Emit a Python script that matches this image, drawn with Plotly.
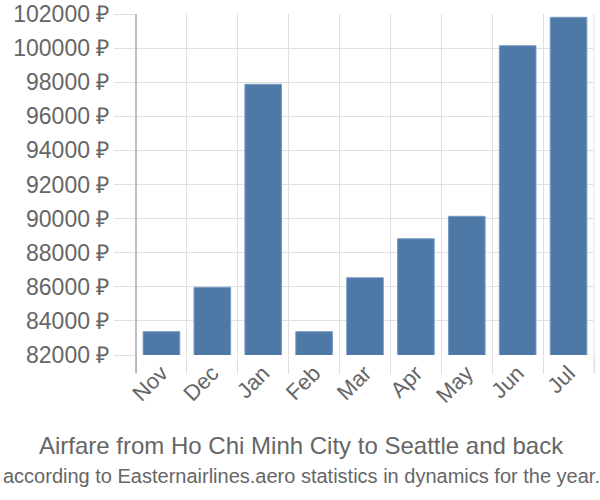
import plotly.graph_objects as go

months = ["Nov", "Dec", "Jan", "Feb", "Mar", "Apr", "May", "Jun", "Jul"]
prices = [83370, 85970, 97880, 83370, 86530, 88820, 90135, 100140, 101806]
y_ticks = list(range(82000, 102001, 2000))
y_tick_labels = [f"{v} ₽" for v in y_ticks]
title_line1 = "Airfare from Ho Chi Minh City to Seattle and back"
title_line2 = "according to Easternairlines.aero statistics in dynamics for the year."

W, H = 600, 500
L, R, T, B = 136, 6, 14, 145
plot_h = H - T - B

fig = go.Figure()
fig.add_trace(go.Bar(
    x=months, y=prices,
    marker=dict(color="#4e79a7", line=dict(color="#7a9cc4", width=1)),
    hoverinfo="x+y",
))

fig.update_layout(
    width=W, height=H,
    margin=dict(l=L, r=R, t=T, b=B, pad=0, autoexpand=False),
    paper_bgcolor="white", plot_bgcolor="white",
    bargap=0.28,
    showlegend=False,
    font=dict(family="Liberation Sans, Arial, sans-serif", color="#666666"),
    xaxis=dict(
        type="category",
        automargin=False,
        tickson="boundaries",
        ticks="outside", ticklen=18, tickcolor="#e0e0e0", tickwidth=1,
        showgrid=True, gridcolor="#e0e0e0", gridwidth=1,
        tickangle=-45,
        tickfont=dict(size=22, color="#666666"),
        showline=False, zeroline=False,
    ),
    yaxis=dict(
        automargin=False,
        range=[82000, 102000],
        tickvals=y_ticks, ticktext=y_tick_labels,
        ticks="outside", ticklen=21, tickcolor="#e0e0e0", tickwidth=1,
        showgrid=True, gridcolor="#e0e0e0", gridwidth=1,
        tickfont=dict(size=23, color="#666666"),
        showline=False, zeroline=False,
    ),
    shapes=[
        dict(type="line", xref="paper", yref="paper",
             x0=0, x1=0, y0=-18 / plot_h, y1=1,
             line=dict(color="#a8a8a8", width=1.5)),
        dict(type="line", xref="paper", yref="paper",
             x0=1, x1=1, y0=-18 / plot_h, y1=1,
             line=dict(color="#e0e0e0", width=1)),
    ],
    annotations=[
        dict(text=title_line1, xref="paper", yref="paper",
             x=(301 - L) / (W - L - R), y=-(445 - (H - B)) / plot_h,
             xanchor="center", yanchor="middle", showarrow=False,
             font=dict(size=24, color="#666666")),
        dict(text=title_line2, xref="paper", yref="paper",
             x=(301 - L) / (W - L - R), y=-(476 - (H - B)) / plot_h,
             xanchor="center", yanchor="middle", showarrow=False,
             font=dict(size=20, color="#666666")),
    ],
)

fig.write_html("out.html")
